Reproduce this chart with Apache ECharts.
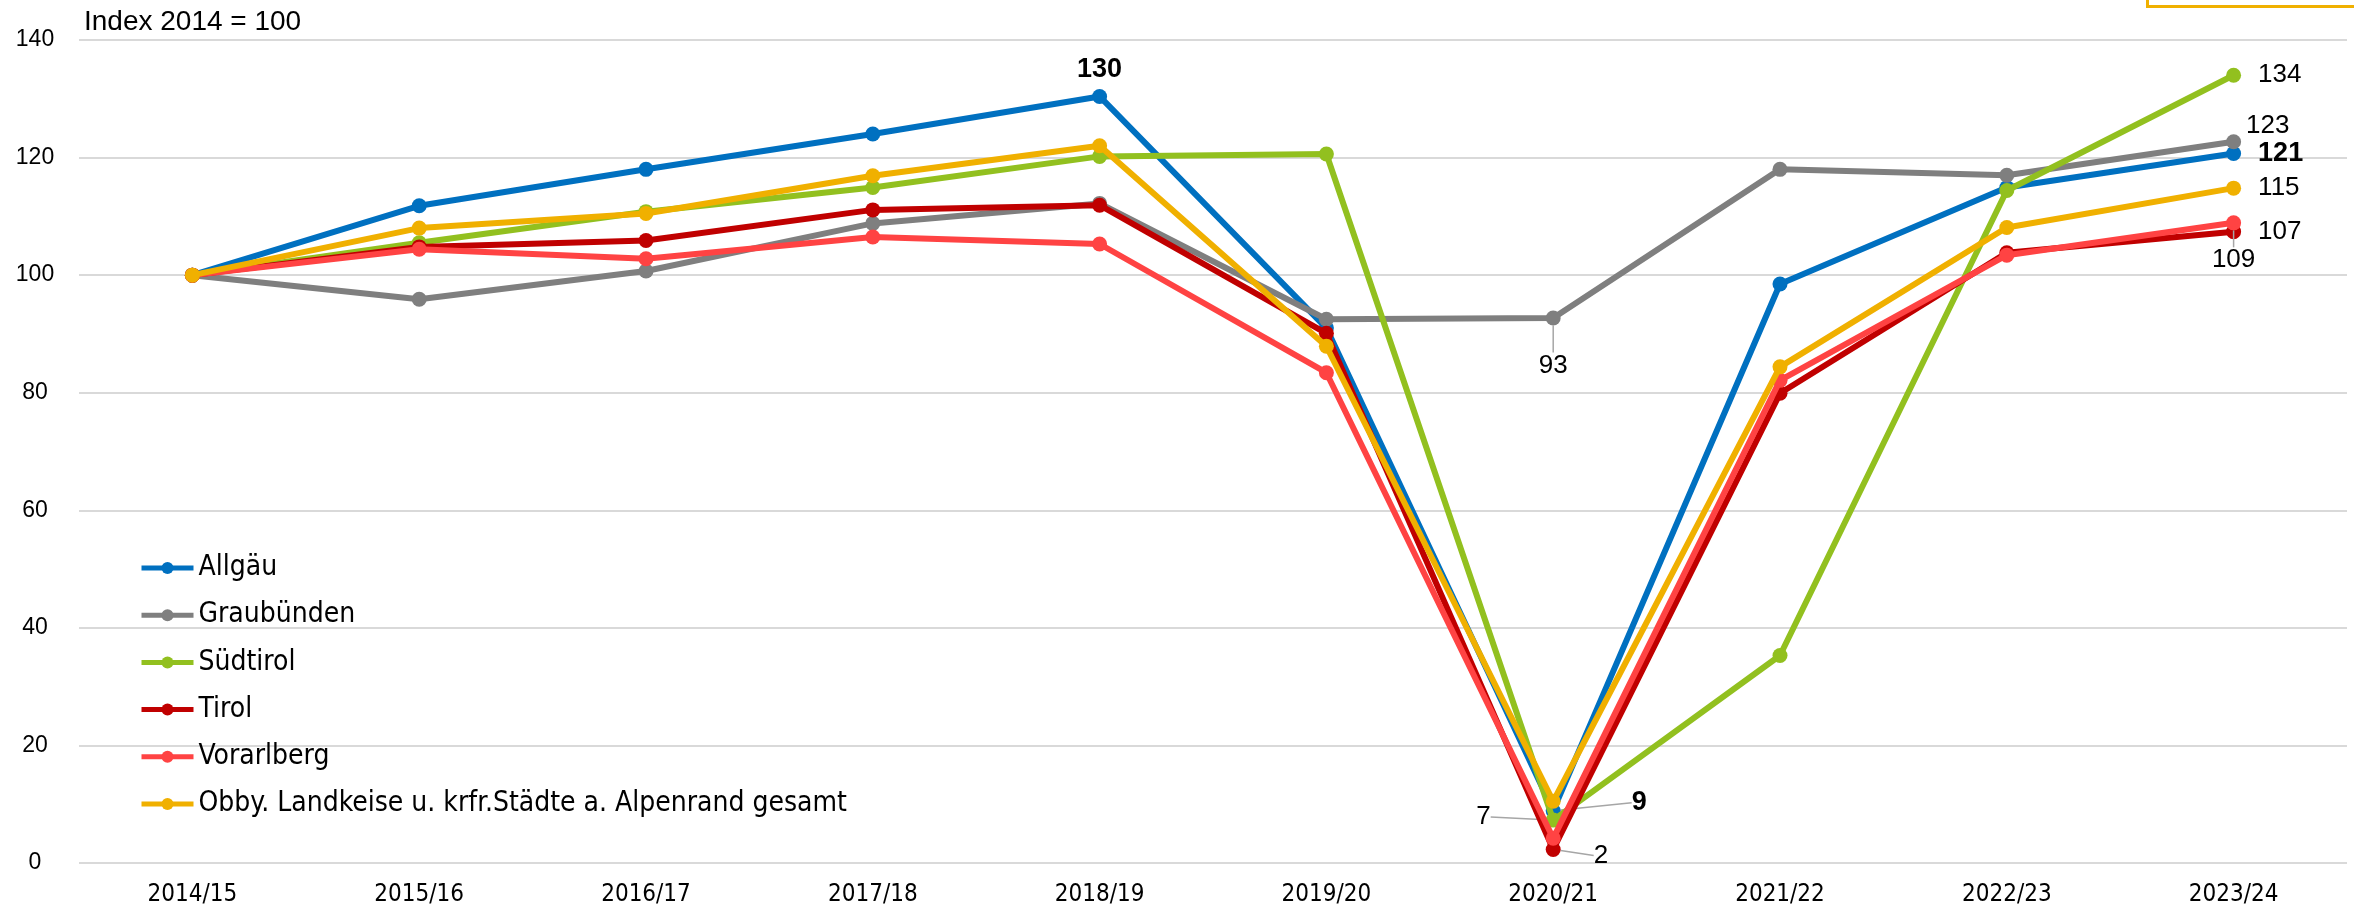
<!DOCTYPE html>
<html>
<head>
<meta charset="utf-8">
<script src="https://cdn.jsdelivr.net/npm/echarts@6/dist/echarts.min.js"></script>
<style>
html,body{margin:0;padding:0;background:#fff;}
#chart{width:2354px;height:909px;}
</style>
</head>
<body>
<div id="chart"></div>
<script>
// ---- data ----
const categories = ['2014/15','2015/16','2016/17','2017/18','2018/19','2019/20','2020/21','2021/22','2022/23','2023/24'];
const yTicks = [0, 20, 40, 60, 80, 100, 120, 140];
const allgaeu    = [100, 111.8, 118.0, 124.0, 130.4, 91.0, 8.9, 98.5, 114.9, 120.7];
const graubuenden= [100, 95.9, 100.7, 108.8, 112.2, 92.5, 92.7, 118.0, 117.0, 122.7];
const suedtirol  = [100, 105.5, 110.8, 114.9, 120.2, 120.6, 7.3, 35.3, 114.4, 134.0];
const tirol      = [100, 104.8, 105.9, 111.1, 111.9, 90.1, 2.3, 79.9, 103.8, 107.4];
const vorarlberg = [100, 104.4, 102.8, 106.5, 105.3, 83.4, 4.2, 82.1, 103.4, 108.9];
const obby       = [100, 108.0, 110.5, 116.9, 122.0, 87.9, 10.5, 84.4, 108.1, 114.8];
const seriesNames = ['Allgäu','Graubünden','Südtirol','Tirol','Vorarlberg','Obby. Landkeise u. krfr.Städte a. Alpenrand gesamt'];
const labelTexts = {
  // seriesIndex: {dataIndex: text}
  0: {4: '130', 6: '9', 9: '121'},
  1: {6: '93', 9: '123'},
  2: {6: '7', 9: '134'},
  3: {6: '2', 9: '107'},
  4: {9: '109'},
  5: {9: '115'}
};

// ---- styles ----
const colors = ['#0070C0', '#7F7F7F', '#92C01F', '#C00000', '#FF4343', '#F0B000'];
const narrow = "'Liberation Sans Narrow','DejaVu Sans Condensed','Arial Narrow',sans-serif";
const sans = "'Liberation Sans',Arial,sans-serif";
const boldSet = {'0-4': true, '0-6': true, '0-9': true};
const labelPos = {
  '0-4': {position: 'top', distance: 6},
  '0-6': {position: 'right', distance: 5},
  '0-9': {position: 'right', distance: 17},
  '1-6': {position: 'bottom', distance: 5},
  '1-9': {position: 'right', distance: 5},
  '2-6': {position: 'left', distance: 5},
  '2-9': {position: 'right', distance: 17},
  '3-6': {position: 'right', distance: 5},
  '3-9': {position: 'right', distance: 17},
  '4-9': {position: 'bottom', distance: 5},
  '5-9': {position: 'right', distance: 17}
};
const moves = {
  '0-6': {dx: 66, dy: -8},
  '1-6': {dx: 0, dy: 22},
  '1-9': {dx: 0, dy: -16},
  '2-6': {dx: -50, dy: -3},
  '3-6': {dx: 28, dy: 6},
  '4-9': {dx: 0, dy: 12}
};
const leaders = {'0-6': true, '1-6': true, '2-6': true, '3-6': true, '4-9': true};

const dataArrays = [allgaeu, graubuenden, suedtirol, tirol, vorarlberg, obby];

function buildData(si) {
  return dataArrays[si].map((v, di) => {
    const key = si + '-' + di;
    const txt = labelTexts[si] && labelTexts[si][di];
    if (!txt) return v;
    const p = labelPos[key] || {};
    const item = {
      value: v,
      label: Object.assign({
        show: true,
        formatter: txt,
        fontFamily: sans,
        fontSize: boldSet[key] ? 27 : 26,
        fontWeight: boldSet[key] ? 'bold' : 'normal',
        color: '#000'
      }, p)
    };
    if (leaders[key]) {
      item.labelLine = {show: true, lineStyle: {color: '#A6A6A6', width: 1.5}};
    }
    return item;
  });
}

const series = seriesNames.map((name, si) => ({
  name: name,
  type: 'line',
  data: buildData(si),
  symbol: 'circle',
  symbolSize: 15,
  z: 2 + si,
  lineStyle: {width: 6, color: colors[si]},
  itemStyle: {color: colors[si]},
  label: {show: false},
  labelLayout: function (params) {
    const m = moves[si + '-' + params.dataIndex];
    return m ? {dx: m.dx, dy: m.dy} : {};
  },
  emphasis: {disabled: true},
  animation: false
}));

const chart = echarts.init(document.getElementById('chart'), null, {renderer: 'canvas'});
chart.setOption({
  backgroundColor: '#fff',
  animation: false,
  title: {
    text: 'Index 2014 = 100',
    left: 84, top: 8, padding: 0,
    textStyle: {fontFamily: sans, fontSize: 28, fontWeight: 'normal', color: '#000'}
  },
  grid: {left: 79, right: 7, top: 40, bottom: 46},
  legend: {
    orient: 'vertical',
    left: 134, top: 547,
    itemWidth: 52, itemHeight: 15,
    itemGap: 15.2,
    lineStyle: {width: 5},
    textStyle: {fontFamily: narrow, fontSize: 28, color: '#000', lineHeight: 32},
    data: seriesNames
  },
  xAxis: {
    type: 'category',
    data: categories,
    boundaryGap: true,
    axisLine: {show: false},
    axisTick: {show: false},
    axisLabel: {fontFamily: narrow, fontSize: 24, color: '#000', margin: 20}
  },
  yAxis: {
    type: 'value',
    min: yTicks[0], max: yTicks[yTicks.length - 1], interval: 20,
    axisLine: {show: false},
    axisTick: {show: false},
    splitLine: {lineStyle: {color: '#D9D9D9', width: 2}},
    axisLabel: {fontFamily: sans, fontSize: 23, color: '#000', align: 'center', margin: 44}
  },
  graphic: [{
    type: 'rect',
    left: 2145, top: -20,
    shape: {width: 260, height: 24},
    style: {fill: 'none', stroke: '#F0B000', lineWidth: 3},
    silent: true
  }],
  series: series
});
</script>
</body>
</html>
